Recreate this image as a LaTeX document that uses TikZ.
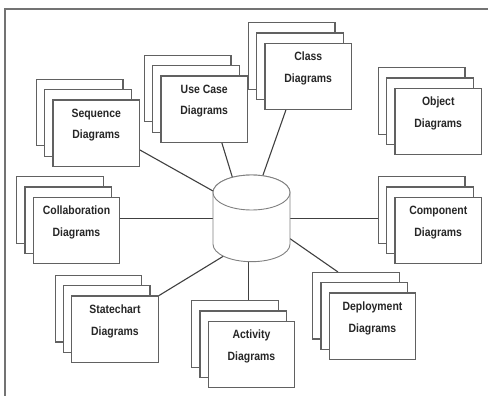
\documentclass[tikz,border=0pt]{standalone}
\usepackage{fontspec}
\newfontfamily\lblfont{Liberation Sans}[FakeStretch=0.87]
\usetikzlibrary{calc,backgrounds}

% one stack of three diagram sheets: name, x, y of the front sheet, caption
\newcommand\docstack[4]{%
  \node[sheet] (#1-back) at (#2-16.6,#3+20.6) {};
  \node[sheet] (#1-mid)  at (#2-8.3,#3+10.3) {};
  \node[sheet] (#1)      at (#2,#3) {};
  \node[lbl]   (#1-text) at (#2,#3+8) {#4};
}

\begin{document}
\begin{tikzpicture}[x=1pt,y=1pt,
  sheet/.style={draw=black!62, line width=1.2pt, fill=white,
    minimum width=86.5pt, minimum height=66.5pt, inner sep=0pt, outer sep=0pt},
  link/.style={draw=black!75, line width=1.1pt},
  hub/.style={draw=black!50, line width=0.9pt, fill=white},
  frame/.style={draw=black!55, line width=1.4pt},
  lbl/.style={font=\lblfont\bfseries\fontsize{12}{21.5}\selectfont,
    text=black!85, align=center, inner sep=0pt}]
\useasboundingbox (0,0) rectangle (488,-396);

% outer frame
\draw[frame] (5,-400) -- (5,-9) -- (492,-9);

% diagram stacks
\docstack{uc}{204.25}{-109.25}{Use Case\\Diagrams}
\docstack{cls}{308.25}{-76.5}{Class\\Diagrams}
\docstack{seq}{96.25}{-133.25}{Sequence\\Diagrams}
\docstack{obj}{438.25}{-121.5}{Object\\Diagrams}
\docstack{col}{76.5}{-230.5}{Collaboration\\Diagrams}
\docstack{comp}{438.25}{-230.5}{Component\\Diagrams}
\docstack{st}{115}{-329.25}{Statechart\\Diagrams}
\docstack{dep}{372.5}{-326.25}{Deployment\\Diagrams}
\docstack{act}{251.5}{-354.5}{Activity\\Diagrams}

% central repository
\node[minimum width=77pt, minimum height=87pt, inner sep=0pt, outer sep=0pt]
  (db) at (251.5,-218.5) {};
\draw[hub] (213,-192.5) -- (213,-244.2)
  arc[start angle=180, end angle=360, x radius=38.5, y radius=17.5]
  -- (290,-192.5)
  arc[start angle=0, end angle=180, x radius=38.5, y radius=17.5] -- cycle;
\draw[hub] (251.5,-192.5) ellipse[x radius=38.5, y radius=17.5];

% connectors to the repository
\begin{scope}[on background layer]
  \draw[link] ($(seq.east)+(0,-16.5)$) -- ($(db.west)+(5,24.7)$);
  \draw[link] ($(uc.south)+(17.5,0)$) -- ($(db.north)+(-18.3,-5)$);
  \draw[link] ($(cls.south)+(-22.25,0)$) -- ($(db.north)+(9.4,-6)$);
  \draw[link] ($(col.east)+(0,12)$) -- (db.west);
  \draw[link] (db.east) -- ($(comp.west)+(0,12)$);
  \draw[link] (st.north east) -- ($(db.center)+(-25.5,-36.1)$);
  \draw[link] ($(db.south)+(-3,0)$) -- ($(act.north)+(-3,0)$);
  \draw[link] ($(db.east)+(-4,-17.4)$) -- ($(dep.north)+(-34.5,21)$);
\end{scope}
\end{tikzpicture}
\end{document}
